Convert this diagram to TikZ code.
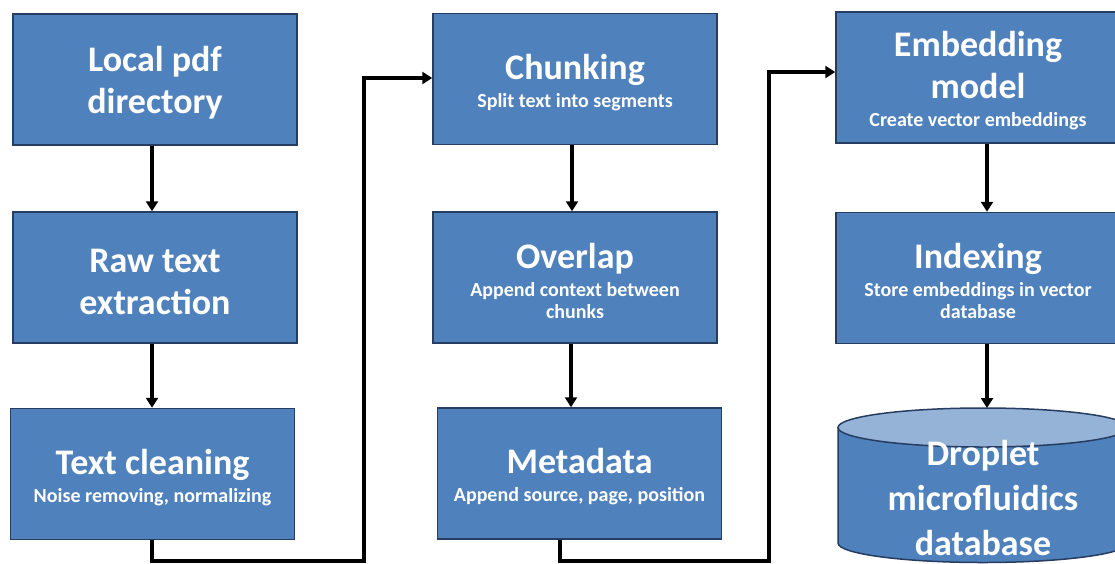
\documentclass[tikz,border=0pt]{standalone}
\usepackage{fontspec}
\setmainfont{Carlito}
\usetikzlibrary{arrows.meta}

\definecolor{boxfill}{RGB}{79,129,189}
\definecolor{boxline}{RGB}{38,60,96}
\definecolor{cyltop}{RGB}{149,179,215}

\newcommand\ttlfont{\fontsize{36}{42}\selectfont\bfseries}
\newcommand\subfont{\fontsize{20}{22}\selectfont\bfseries}
% title paragraph followed by a smaller description paragraph
\newcommand\stagetext[2]{{\ttlfont #1\par}\vskip 6pt{\subfont #2\par}}

\tikzset{
  stage/.style={draw=boxline, line width=1.5pt, fill=boxfill, text=white,
    minimum width=284pt, minimum height=131pt, text width=280pt,
    align=flush center, inner sep=0pt, font=\ttlfont,
    % a taller first line sets the text a little below the middle
    execute at begin node={\rule{0pt}{32pt}}},
  flow/.style={line width=3.2pt, -{Triangle[length=10pt,width=12pt]}},
  cylbody/.style={draw=boxline, line width=1.5pt, fill=boxfill},
  cylcap/.style={draw=boxline, line width=1.5pt, fill=cyltop},
}

\begin{document}
\begin{tikzpicture}[x=1pt,y=-1pt]
\useasboundingbox (0,0) rectangle (1115,563);
\clip (0,0) rectangle (1115,563);

% left column
\node[stage] (pdf)   at (155,79.5)  {Local pdf\\directory};
\node[stage] (raw)   at (155,277.5) {Raw text\\extraction};
\node[stage] (clean) at (152.5,474) {\stagetext{Text cleaning}{Noise removing, normalizing}};

% middle column
\node[stage] (chunk)   at (575,79)    {\stagetext{Chunking}{Split text into segments}};
\node[stage] (overlap) at (575,277.5) {\stagetext{Overlap}{Append context between\\chunks}};
\node[stage] (meta)    at (579.5,473.5) {\stagetext{Metadata}{Append source, page, position}};

% right column
\node[stage] (embed) at (978,77.5) {\stagetext{Embedding\\model}{Create vector embeddings}};
\node[stage] (index) at (978,278)  {\stagetext{Indexing}{Store embeddings in vector\\database}};

% database cylinder
\draw[cylbody] (838,427.5) -- (838,543)
  arc[start angle=180, end angle=0, x radius=145, y radius=19.5]
  -- (1128,427.5) -- cycle;
\draw[cylcap] (983,427.5) ellipse[x radius=145, y radius=19.5];
\coordinate (dbtop) at (987,408);
\node[text=white, font=\fontsize{36}{45}\selectfont\bfseries, align=center,
  inner sep=0pt] (db) at (983,498) {Droplet\\microfluidics\\database};

% connectors
\draw[flow] ([xshift=-3pt]pdf.south) -- ([xshift=-3pt]raw.north);
\draw[flow] ([xshift=-3pt]raw.south) -- ([xshift=-0.5pt]clean.north);

\coordinate (bendA) at (364,561);
\draw[flow] ([xshift=-0.5pt]clean.south) -- ([xshift=-0.5pt]clean.south |- bendA)
  -- (bendA) |- ([yshift=1pt]chunk.west);

\draw[flow] ([xshift=-3pt]chunk.south) -- ([xshift=-3pt]overlap.north);
\draw[flow] ([xshift=-4pt]overlap.south) coordinate (ov) -- (ov |- meta.north);

\coordinate (bendB) at (769,561);
\draw[flow] ([xshift=-19.5pt]meta.south) coordinate (ms) -- (ms |- bendB)
  -- (bendB) |- ([yshift=5.5pt]embed.west);

\draw[flow] ([xshift=9pt]embed.south) -- ([xshift=9pt]index.north);
\draw[flow] ([xshift=9pt]index.south) -- (dbtop);
\end{tikzpicture}
\end{document}
